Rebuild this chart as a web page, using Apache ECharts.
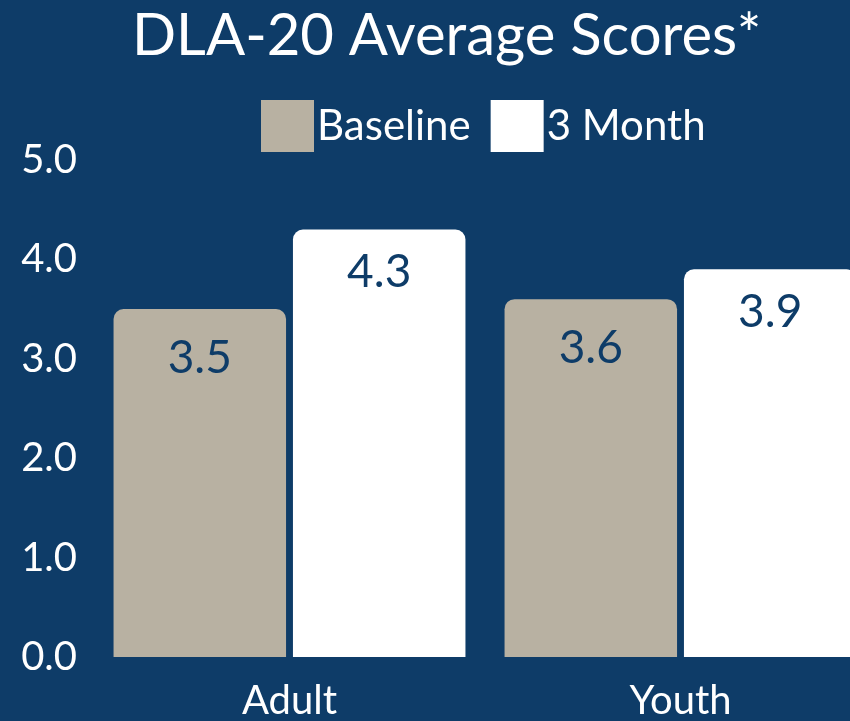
<!DOCTYPE html>
<html><head><meta charset="utf-8">
<script src="https://cdn.jsdelivr.net/npm/echarts@6/dist/echarts.min.js"></script>
<style>html,body{margin:0;padding:0;background:#0e3c68;}#c{width:850px;height:721px;}</style>
</head><body><div id="c"></div>
<script>
const categories = ["Adult", "Youth"];
const baseline = [3.5, 3.6];
const month3 = [4.3, 3.9];
const seriesNames = ["Baseline", "3 Month"];
const titleText = "DLA-20 Average Scores*";

const bg = "#0e3c68";
const font = "Lato";
const chart = echarts.init(document.getElementById('c'));
chart.setOption({
  backgroundColor: bg,
  animation: false,
  title: { text: titleText, left: 127, top: 2, textStyle: { color: '#fff', fontSize: 58, fontWeight: 'normal', fontFamily: font } },
  legend: {
    top: 95, left: 256, itemWidth: 53, itemHeight: 52, itemGap: 20, icon: 'rect',
    textStyle: { color: '#fff', fontSize: 42, fontFamily: font, padding: [0, 0, 0, -2] },
    data: seriesNames
  },
  grid: { left: 94, width: 782, top: 160, bottom: 64, outerBoundsMode: 'none', containLabel: false },
  xAxis: {
    type: 'category', data: categories,
    axisLine: { show: false }, axisTick: { show: false },
    axisLabel: { color: '#fff', fontSize: 40, fontFamily: font, margin: 24 }
  },
  yAxis: {
    type: 'value', min: 0, max: 5, interval: 1,
    splitLine: { show: false },
    axisLabel: { color: '#fff', fontSize: 40, fontFamily: font, margin: 17, formatter: v => v.toFixed(1) }
  },
  series: [
    { name: seriesNames[0], type: 'bar', data: baseline, barGap: '4%', barCategoryGap: '10%',
      itemStyle: { color: '#b8b1a2', borderRadius: [10, 10, 0, 0] },
      label: { show: true, position: 'insideTop', distance: 26, color: bg, fontSize: 46, fontFamily: font, formatter: p => p.value.toFixed(1) } },
    { name: seriesNames[1], type: 'bar', data: month3,
      itemStyle: { color: '#ffffff', borderRadius: [10, 10, 0, 0] },
      label: { show: true, position: 'insideTop', distance: 20, color: bg, fontSize: 46, fontFamily: font, formatter: p => p.value.toFixed(1) } }
  ]
});
</script></body></html>
